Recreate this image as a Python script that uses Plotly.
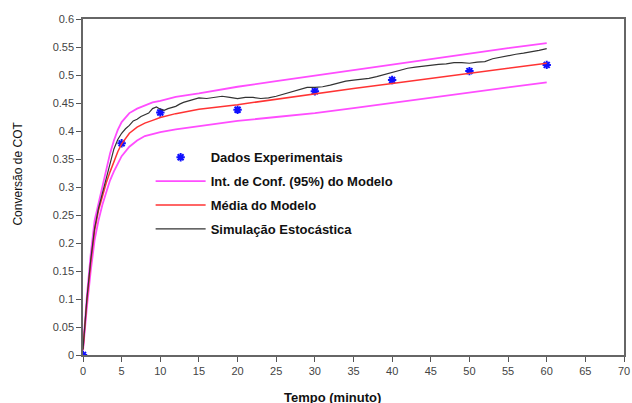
import plotly.graph_objects as go

# Experimental data
t_exp = [0, 5, 10, 20, 30, 40, 50, 60]
y_exp = [0.0, 0.378, 0.433, 0.438, 0.471, 0.491, 0.507, 0.518]

# Model curves
t_mod = [0, 0.25, 0.5, 1, 1.5, 2, 2.5, 3, 3.5, 4, 4.5, 5, 6, 7, 8, 9, 10, 12, 15,
         20, 25, 30, 35, 40, 45, 50, 55, 60]
y_mean = [0.01, 0.055, 0.095, 0.165, 0.222, 0.258, 0.285, 0.307, 0.327, 0.346, 0.363, 0.377,
          0.396, 0.407, 0.414, 0.419, 0.424, 0.431, 0.439,
          0.447, 0.457, 0.467, 0.476, 0.485, 0.494, 0.503, 0.512, 0.521]
y_upper = [0.012, 0.06, 0.105, 0.18, 0.24, 0.27, 0.302, 0.333, 0.36, 0.383, 0.402, 0.416,
           0.432, 0.44, 0.446, 0.451, 0.454, 0.461, 0.467,
           0.479, 0.489, 0.499, 0.509, 0.519, 0.529, 0.539, 0.548, 0.557]
y_lower = [0.008, 0.05, 0.085, 0.15, 0.205, 0.24, 0.268, 0.29, 0.312, 0.328, 0.343, 0.355,
           0.372, 0.383, 0.391, 0.395, 0.398, 0.403, 0.409,
           0.418, 0.425, 0.432, 0.441, 0.450, 0.459, 0.469, 0.478, 0.487]

# Stochastic simulation
t_sim = [0, 0.5, 1, 1.5, 2, 2.5, 3, 3.5, 4, 4.5, 5, 5.5, 6, 6.5, 7, 7.5, 8, 8.5, 9, 9.5,
         10, 10.5, 11, 11.5, 12, 12.5, 13, 14, 15, 16, 17, 18, 19, 20, 21, 22, 23, 24,
         25, 26, 27, 28, 29, 30, 31, 32, 33, 34, 35, 36, 37, 38, 39, 40, 41, 42, 43, 44,
         45, 46, 47, 48, 49, 50, 51, 52, 53, 54, 55, 56, 57, 58, 59, 60]
y_sim = [0.01, 0.1, 0.17, 0.226, 0.262, 0.289, 0.318, 0.345, 0.368, 0.385, 0.396, 0.404,
         0.41, 0.418, 0.421, 0.426, 0.429, 0.432, 0.44, 0.443,
         0.439, 0.437, 0.44, 0.442, 0.444, 0.448, 0.451, 0.455, 0.459, 0.458, 0.46, 0.462,
         0.46, 0.458, 0.46, 0.46, 0.458, 0.459,
         0.462, 0.466, 0.471, 0.475, 0.478, 0.478, 0.479, 0.482, 0.486, 0.489, 0.491, 0.492,
         0.494, 0.497, 0.501, 0.505, 0.509, 0.512, 0.514, 0.516,
         0.518, 0.519, 0.52, 0.522, 0.522, 0.521, 0.523, 0.524, 0.529, 0.532, 0.534, 0.537,
         0.539, 0.541, 0.544, 0.547]

x_ticks = [0, 5, 10, 15, 20, 25, 30, 35, 40, 45, 50, 55, 60, 65, 70]
y_ticks = [0, 0.05, 0.1, 0.15, 0.2, 0.25, 0.3, 0.35, 0.4, 0.45, 0.5, 0.55, 0.6]
y_tick_labels = ["0", "0.05", "0.1", "0.15", "0.2", "0.25", "0.3", "0.35", "0.4",
                 "0.45", "0.5", "0.55", "0.6"]

MAG = "#ff4dff"
RED = "#ff3333"

fig = go.Figure()
fig.add_trace(go.Scatter(x=t_exp, y=y_exp, mode="markers", name="Dados Experimentais",
                         legendgroup="a",
                         marker=dict(symbol="asterisk-open", size=7, color="#1010ff",
                                     line=dict(color="#1010ff", width=2))))
fig.add_trace(go.Scatter(x=t_mod, y=y_upper, mode="lines", name="Int. de Conf. (95%) do Modelo",
                         legendgroup="b", line=dict(color=MAG, width=1.8)))
fig.add_trace(go.Scatter(x=t_mod, y=y_lower, mode="lines", showlegend=False,
                         legendgroup="b", line=dict(color=MAG, width=1.8)))
fig.add_trace(go.Scatter(x=t_mod, y=y_mean, mode="lines", name="Média do Modelo",
                         legendgroup="c", line=dict(color=RED, width=1.5)))
fig.add_trace(go.Scatter(x=t_sim, y=y_sim, mode="lines", name="Simulação Estocástica",
                         legendgroup="d", line=dict(color="#333333", width=1.2)))

axis_common = dict(showgrid=False, zeroline=False, showline=True, linecolor="#666666",
                   linewidth=1.5, mirror=True, ticks="outside", ticklen=5, tickwidth=1,
                   tickcolor="#555555", automargin=False,
                   tickfont=dict(family="Liberation Sans", size=11, color="#444444"))

fig.update_layout(
    width=632, height=403,
    margin=dict(l=83, r=8, t=19, b=48),
    paper_bgcolor="white", plot_bgcolor="white",
    xaxis=dict(range=[0, 70], tickvals=x_ticks, **axis_common),
    yaxis=dict(range=[0, 0.6], tickvals=y_ticks, ticktext=y_tick_labels, **axis_common),
    legend=dict(x=0.125, y=0.633, xanchor="left", yanchor="top", bgcolor="rgba(0,0,0,0)",
                font=dict(family="Liberation Sans", size=13, color="#111111", weight="bold"),
                itemwidth=50, tracegroupgap=4, traceorder="grouped"),
    showlegend=True,
    annotations=[
        dict(text="<b>Tempo (minuto)</b>", xref="paper", yref="paper", x=0.462, y=0,
             yshift=-42, showarrow=False, yanchor="middle",
             font=dict(family="Liberation Sans", size=13, color="#111111")),
        dict(text="Conversão de COT", xref="paper", yref="paper", x=0, y=0.54,
             xshift=-65, showarrow=False, textangle=-90, xanchor="center",
             font=dict(family="Liberation Sans", size=12, color="#111111")),
    ],
)

fig.write_html("out.html", config={"displayModeBar": False},
               post_script="document.body.style.margin='0';document.body.style.overflow='hidden';")
